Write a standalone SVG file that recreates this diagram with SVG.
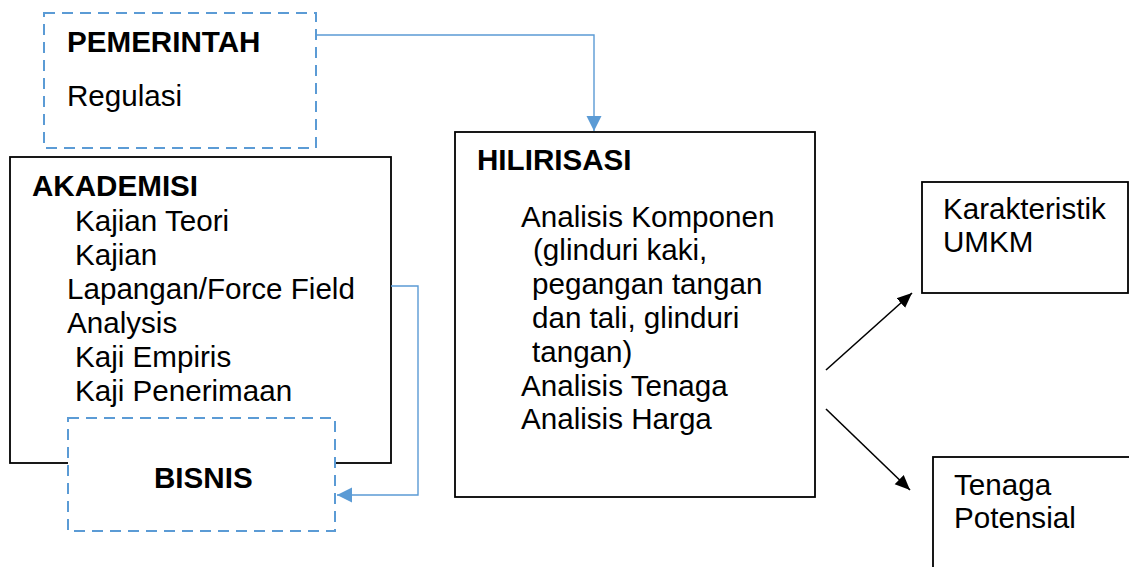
<svg xmlns="http://www.w3.org/2000/svg" width="1129" height="567" viewBox="0 0 1129 567">
<defs>
<style>
.box{fill:#fff;stroke:#000;stroke-width:1.8}
.dbox{fill:#fff;stroke:#5B9BD5;stroke-width:2;stroke-dasharray:11 7}
.t{font-family:"Liberation Sans",Arial,sans-serif;font-size:29.6px;fill:#000}
.b{font-weight:bold}
.blue{fill:none;stroke:#5B9BD5;stroke-width:1.4}
.blk{fill:none;stroke:#000;stroke-width:1.6}
</style>
<marker id="ab" markerUnits="userSpaceOnUse" markerWidth="16" markerHeight="16" refX="15" refY="8" orient="auto">
<path d="M0,0.5 L15,8 L0,15.5 Z" fill="#5B9BD5"/>
</marker>
<marker id="ak" markerUnits="userSpaceOnUse" markerWidth="16" markerHeight="16" refX="15" refY="8" orient="auto">
<path d="M0,1.5 L15,8 L0,14.5 Z" fill="#000"/>
</marker>
</defs>
<rect width="1129" height="567" fill="#fff"/>
<g id="pemerintah">
<rect class="dbox" x="44" y="13" width="272" height="135"/>
<text class="t b" x="67" y="52">PEMERINTAH</text>
<text class="t" x="67" y="106">Regulasi</text>
</g>
<g id="akademisi">
<rect class="box" x="10" y="157" width="381" height="306"/>
<text class="t b" x="32" y="196">AKADEMISI</text>
<text class="t" x="75" y="231">Kajian Teori</text>
<text class="t" x="75" y="265">Kajian</text>
<text class="t" x="67" y="299">Lapangan/Force Field</text>
<text class="t" x="67" y="333">Analysis</text>
<text class="t" x="75" y="367">Kaji Empiris</text>
<text class="t" x="75" y="401">Kaji Penerimaan</text>
</g>
<g id="bisnis">
<rect class="dbox" x="68" y="418" width="267" height="113"/>
<text class="t b" x="154" y="488">BISNIS</text>
</g>
<g id="hilirisasi">
<rect class="box" x="455" y="132" width="360" height="365"/>
<text class="t b" x="477" y="170">HILIRISASI</text>
<text class="t" x="521" y="227">Analisis Komponen</text>
<text class="t" x="533" y="260">(glinduri kaki,</text>
<text class="t" x="532" y="294">pegangan tangan</text>
<text class="t" x="532" y="328">dan tali, glinduri</text>
<text class="t" x="532" y="362">tangan)</text>
<text class="t" x="521" y="396">Analisis Tenaga</text>
<text class="t" x="521" y="429">Analisis Harga</text>
</g>
<g id="karakteristik">
<rect class="box" x="922" y="182" width="206" height="111"/>
<text class="t" x="943" y="219">Karakteristik</text>
<text class="t" x="943" y="252">UMKM</text>
</g>
<g id="tenaga">
<rect class="box" x="933" y="457" width="210" height="130"/>
<text class="t" x="954" y="495">Tenaga</text>
<text class="t" x="954" y="528">Potensial</text>
</g>
<g id="connectors">
<path class="blue" d="M316,35 H594 V131" marker-end="url(#ab)"/>
<path class="blue" d="M391,286 H418 V495 H337" marker-end="url(#ab)"/>
<path class="blk" d="M826,370 L912,293" marker-end="url(#ak)"/>
<path class="blk" d="M826,409 L910,490" marker-end="url(#ak)"/>
</g>
</svg>
